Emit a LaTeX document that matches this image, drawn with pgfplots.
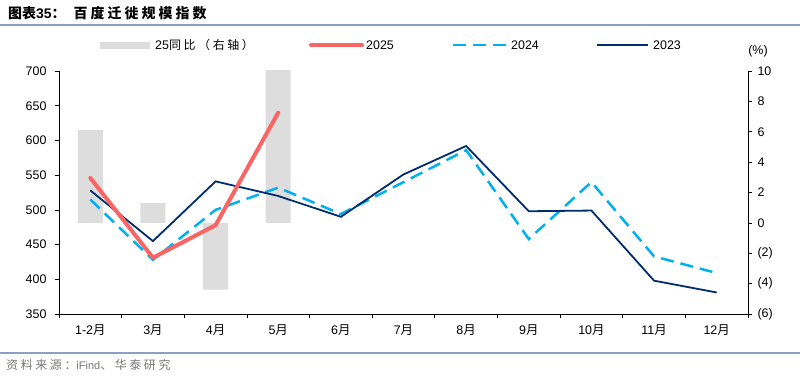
\documentclass[border=0pt]{standalone}
\usepackage{pgfplots}
\pgfplotsset{compat=1.18}
\usepackage{fontspec}
\setmainfont{Liberation Sans}
\newfontfamily\cjk{Noto Sans CJK SC}
\newfontfamily\cjksp{Noto Sans CJK SC}[LetterSpace=22]
\definecolor{barGray}{RGB}{221,221,221}
\definecolor{red25}{RGB}{250,100,100}
\definecolor{blue24}{RGB}{0,176,240}
\definecolor{navy23}{RGB}{0,45,110}
\definecolor{ruleC}{RGB}{140,160,195}
\definecolor{srcC}{RGB}{120,120,120}
\newcommand{\yue}{{\cjk 月}}
\begin{document}
\begin{tikzpicture}[x=1bp,y=1bp]
\useasboundingbox (0,0) rectangle (800,377);
\fill[white] (0,0) rectangle (800,377);
% title & rules
\node[anchor=west,inner sep=0] at (8,364) {\fontsize{14}{16}\selectfont\bfseries {\cjk 图表}35{\cjk ：}\hspace{8bp}{\cjksp\bfseries 百度迁徙规模指数}};
\draw[ruleC,line width=1.2bp] (0,352) -- (800,352);
\draw[ruleC,line width=1.2bp] (0,24) -- (800,24);
\node[anchor=west,inner sep=0,text=srcC] at (6,12) {\fontsize{12}{14}\selectfont{\cjksp 资料来源：}{\fontsize{11}{13}\selectfont iFind}{\cjksp 、华泰研究}};
% legend
\fill[barGray] (100,328.5) rectangle (150,335.5);
\node[anchor=west,inner sep=0] at (155,332) {\fontsize{12.5}{14}\selectfont 25{\cjksp\fontsize{12}{14}\selectfont 同比（右轴）}};
\draw[red25,line width=4bp,line cap=round] (311,332) -- (362,332);
\node[anchor=west,inner sep=0] at (366,332) {\fontsize{12.5}{14}\selectfont 2025};
\draw[blue24,line width=2.5bp,dash pattern=on 13bp off 7bp] (453,332) -- (506,332);
\node[anchor=west,inner sep=0] at (511,332) {\fontsize{12.5}{14}\selectfont 2024};
\draw[navy23,line width=1.8bp] (597,332) -- (648,332);
\node[anchor=west,inner sep=0] at (653,332) {\fontsize{12.5}{14}\selectfont 2023};
\node[inner sep=0] at (758,326) {\fontsize{12.5}{14}\selectfont (\%)};
% right axis with bars
\begin{axis}[at={(59bp,63bp)}, anchor=south west, scale only axis,
  width=689bp, height=243bp,
  xmin=-0.5, xmax=10.5, ymin=-6, ymax=10,
  axis y line*=right, axis x line=none,
  ytick={-6,-4,...,10}, yticklabels={(6),(4),(2),0,2,4,6,8,10},
  tick align=outside, major tick length=4bp,
  every tick/.style={black,line width=0.7bp},
  axis line style={black,line width=0.8bp},
  tick label style={font=\fontsize{12.5}{14}\selectfont},
  yticklabel style={xshift=2bp},
  ybar, bar width=25bp, clip=true]
\addplot[fill=barGray, draw=none] coordinates {(0,6.1) (1,1.3) (2,-4.4) (3,12)};
\end{axis}
% left axis with lines
\begin{axis}[at={(59bp,63bp)}, anchor=south west, scale only axis,
  width=689bp, height=243bp,
  xmin=-0.5, xmax=10.5, ymin=350, ymax=700,
  axis y line*=left, axis x line*=bottom,
  ytick={350,400,...,700},
  xtick={0,...,10},
  xticklabels={1-2\yue,3\yue,4\yue,5\yue,6\yue,7\yue,8\yue,9\yue,10\yue,11\yue,12\yue},
  minor xtick={-0.5,0.5,...,10.5},
  major x tick style={draw=none},
  tick align=outside, major tick length=4bp, minor tick length=4bp,
  every tick/.style={black,line width=0.7bp},
  axis line style={black,line width=0.8bp},
  /pgf/number format/assume math mode=true,
  tick label style={font=\fontsize{12.5}{14}\selectfont},
  yticklabel style={xshift=-5bp},
  xticklabel style={yshift=-3bp},
  clip=false]
\addplot[blue24,line width=2.5bp,dash pattern=on 13bp off 7bp] coordinates {
 (0,515) (1,428) (2,500) (3,532) (4,494) (5,540) (6,586) (7,458) (8,540) (9,433) (10,409)};
\addplot[navy23,line width=1.8bp] coordinates {
 (0,528) (1,455) (2,541) (3,520) (4,490) (5,551) (6,592) (7,498) (8,499) (9,398) (10,381)};
\addplot[red25,line width=4bp,line cap=round,line join=round] coordinates {
 (0,546) (1,431) (2,478) (3,640)};
\end{axis}
\end{tikzpicture}
\end{document}
